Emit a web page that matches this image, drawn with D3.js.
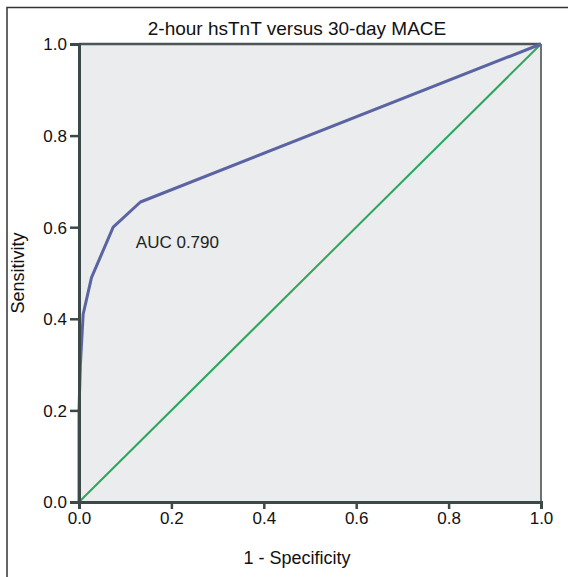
<!DOCTYPE html>
<html><head><meta charset="utf-8">
<script src="https://cdn.jsdelivr.net/npm/d3@7"></script>
<style>body{margin:0;background:#fff}svg{display:block;font-family:"Liberation Sans",Arial,sans-serif}</style>
</head><body><svg id="c" width="568" height="577"></svg>
<script>
const title = "2-hour hsTnT versus 30-day MACE";
const xLabel = "1 - Specificity";
const yLabel = "Sensitivity";
const tickValues = [0, 0.2, 0.4, 0.6, 0.8, 1.0];
const rocFPR = [0, 0, 0.003, 0.009, 0.027, 0.074, 0.133, 1.0];
const rocTPR = [0, 0.2, 0.30, 0.41, 0.49, 0.60, 0.655, 1.0];
const refFPR = [0, 1];
const refTPR = [0, 1];
const aucText = "AUC 0.790";
const aucPos = [0.123, 0.568];

const svg = d3.select("#c");
const x = d3.scaleLinear().domain([0, 1]).range([79, 541]);
const y = d3.scaleLinear().domain([0, 1]).range([502, 44]);

// outer frame (extends beyond the picture)
svg.append("rect").attr("x", 7).attr("y", 7.5).attr("width", 620).attr("height", 620)
  .attr("fill", "none").attr("stroke", "#333").attr("stroke-width", 1.5);

// plot background
svg.append("rect").attr("x", x(0)).attr("y", y(1)).attr("width", x(1) - x(0)).attr("height", y(0) - y(1))
  .attr("fill", "#ebeced");

// top and right borders
svg.append("line").attr("x1", x(0)).attr("x2", x(1)).attr("y1", y(1)).attr("y2", y(1))
  .attr("stroke", "#4b5656").attr("stroke-width", 2.5);
svg.append("line").attr("x1", x(1)).attr("x2", x(1)).attr("y1", y(1)).attr("y2", y(0))
  .attr("stroke", "#6a7272").attr("stroke-width", 2);

const line = d3.line().x(d => x(d[0])).y(d => y(d[1]));
svg.append("path").datum(d3.zip(refFPR, refTPR)).attr("d", line)
  .attr("fill", "none").attr("stroke", "#2ea55e").attr("stroke-width", 2);
svg.append("path").datum(d3.zip(rocFPR, rocTPR)).attr("d", line)
  .attr("fill", "none").attr("stroke", "#5b64a3").attr("stroke-width", 3).attr("stroke-linejoin", "round");

// axes
const fmt = d3.format(".1f");
const xAxis = svg.append("g").attr("transform", `translate(0,${y(0)})`)
  .call(d3.axisBottom(x).tickValues(tickValues).tickFormat(fmt).tickSize(7).tickPadding(3));
const yAxis = svg.append("g").attr("transform", `translate(${x(0)},0)`)
  .call(d3.axisLeft(y).tickValues(tickValues).tickFormat(fmt).tickSize(9).tickPadding(3));
[xAxis, yAxis].forEach(g => {
  g.select(".domain").attr("stroke", "#3b4a48").attr("stroke-width", 3);
  g.selectAll(".tick line").attr("stroke", "#3b4a48").attr("stroke-width", 2.5);
  g.selectAll("text").attr("fill", "#111").style("font-size", "17px").style("font-family", "'Liberation Sans',Arial,sans-serif");
});
yAxis.selectAll("text").attr("dy", "0.35em");

svg.append("text").attr("x", 297).attr("y", 35).attr("text-anchor", "middle")
  .style("font-size", "19px").attr("fill", "#111").text(title);
svg.append("text").attr("x", 297).attr("y", 564).attr("text-anchor", "middle")
  .style("font-size", "18px").attr("fill", "#111").text(xLabel);
svg.append("text").attr("transform", `translate(24,${(y(0) + y(1)) / 2}) rotate(-90)`).attr("text-anchor", "middle")
  .style("font-size", "18px").attr("fill", "#111").text(yLabel);
svg.append("text").attr("x", x(aucPos[0])).attr("y", y(aucPos[1])).attr("dy", "0.35em")
  .style("font-size", "17px").attr("fill", "#222").text(aucText);
</script></body></html>
